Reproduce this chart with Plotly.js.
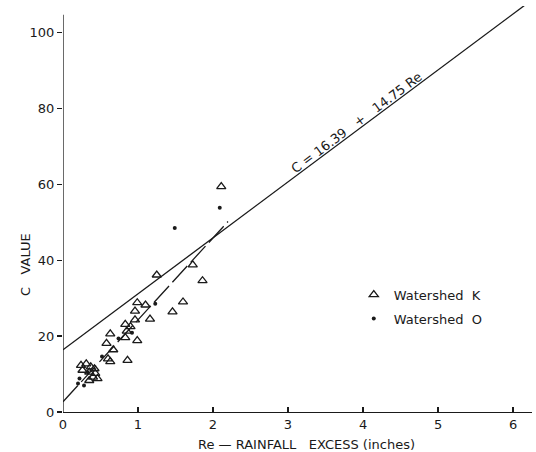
<!DOCTYPE html>
<html>
<head>
<meta charset="utf-8">
<script src="https://cdn.plot.ly/plotly-3.0.1.min.js"></script>
<style>
  html, body { margin: 0; padding: 0; background: #fff; }
  #chart { width: 536px; height: 452px; }
</style>
</head>
<body>
<div id="chart"></div>
<script>
// Rainfall excess (inches) vs. C value, two watersheds
const watershedK_Re = [2.11, 1.86, 1.73, 1.60, 1.46, 1.25, 1.16, 1.10, 0.99, 0.96, 0.96, 0.83, 0.90, 0.85,
  0.83, 0.99, 0.63, 0.58, 0.67, 0.60, 0.63, 0.86, 0.24, 0.31, 0.37, 0.42, 0.26, 0.35, 0.40, 0.46, 0.35, 0.43];
const watershedK_C = [59.4, 34.6, 38.8, 29.0, 26.4, 36.1, 24.5, 28.2, 28.8, 26.6, 24.3, 23.1, 22.5, 21.3,
  19.6, 18.8, 20.6, 18.1, 16.4, 14.0, 13.3, 13.6, 12.3, 12.7, 11.9, 11.4, 11.0, 10.5, 9.2, 8.8, 8.3, 10.2];

const watershedO_Re = [2.09, 1.49, 1.23, 0.92, 0.74, 0.52, 0.22, 0.28, 0.20, 0.33];
const watershedO_C  = [53.8, 48.5, 28.5, 20.9, 19.4, 14.6, 8.8, 7.0, 7.5, 10.5];

// Fitted envelope line: C = 16.39 + 14.75 Re
const fitIntercept = 16.39;
const fitSlope = 14.75;
const fitRe = [0, 6.25];

// Lower trend line through the cluster
const lowerRe = [0, 2.2];
const lowerC  = [2.7, 50.2];

const xTicks = [0, 1, 2, 3, 4, 5, 6];
const yTicks = [0, 20, 40, 60, 80, 100];

const ink = '#1a1a1a';
const family = 'DejaVu Sans, Verdana, sans-serif';
const font = { family: family, size: 13, color: ink };

const traces = [
  {
    x: fitRe, y: fitRe.map(r => fitIntercept + fitSlope * r),
    mode: 'lines', line: { color: ink, width: 1.3 },
    showlegend: false, hoverinfo: 'skip'
  },
  {
    x: lowerRe, y: lowerC,
    mode: 'lines', line: { color: ink, width: 1.3, dash: '22px,5px' },
    showlegend: false, hoverinfo: 'skip'
  },
  {
    x: watershedK_Re, y: watershedK_C, name: 'Watershed  K',
    mode: 'markers', legendgroup: 'k',
    marker: { symbol: 'triangle-up-open', size: 8, color: ink, line: { width: 1.3, color: ink } }
  },
  {
    x: watershedO_Re, y: watershedO_C, name: 'Watershed  O',
    mode: 'markers', legendgroup: 'o',
    marker: { symbol: 'circle', size: 4, color: ink }
  }
];

const layout = {
  width: 536, height: 452,
  margin: { l: 63, r: 4, t: 6, b: 40 },
  paper_bgcolor: '#fff', plot_bgcolor: '#fff',
  font: font,
  showlegend: true,
  legend: {
    x: 0.62, y: 0.326, xanchor: 'left', yanchor: 'top',
    bgcolor: 'rgba(0,0,0,0)', font: font,
    traceorder: 'grouped', tracegroupgap: 4, itemwidth: 30
  },
  xaxis: {
    range: [0, 6.253], tickvals: xTicks, ticktext: xTicks.map(String),
    showgrid: false, zeroline: false, showline: true, linecolor: ink, linewidth: 1.3,
    ticks: 'inside', ticklen: 5, tickcolor: ink, tickwidth: 1.3,
    tickfont: font
  },
  yaxis: {
    range: [0, 107], tickvals: yTicks, ticktext: yTicks.map(String),
    showgrid: false, zeroline: false, showline: false,
    ticks: 'outside', ticklen: 5, tickcolor: ink, tickwidth: 1.3,
    tickfont: font
  },
  shapes: [
    { type: 'line', xref: 'x', yref: 'y', x0: 0, x1: 0, y0: 0, y1: 104.7,
      line: { color: ink, width: 1.3 } }
  ],
  annotations: [
    { text: 'C = 16.39   +   14.75 Re', xref: 'x', yref: 'y', x: 3.916, y: 76.3,
      textangle: -36.7, showarrow: false, font: { family: family, size: 13, color: ink } },
    { text: 'Re — RAINFALL   EXCESS (inches)', xref: 'paper', yref: 'paper',
      x: (306 - 63) / 469, y: 0, yshift: -32, xanchor: 'center', yanchor: 'middle',
      showarrow: false, font: font },
    { text: 'C   VALUE', xref: 'paper', yref: 'paper',
      x: 0, xshift: -38, y: (412 - 265) / 406, textangle: -90,
      xanchor: 'center', yanchor: 'middle', showarrow: false, font: font }
  ]
};

Plotly.newPlot('chart', traces, layout, { displayModeBar: false, staticPlot: true });
</script>
</body>
</html>
